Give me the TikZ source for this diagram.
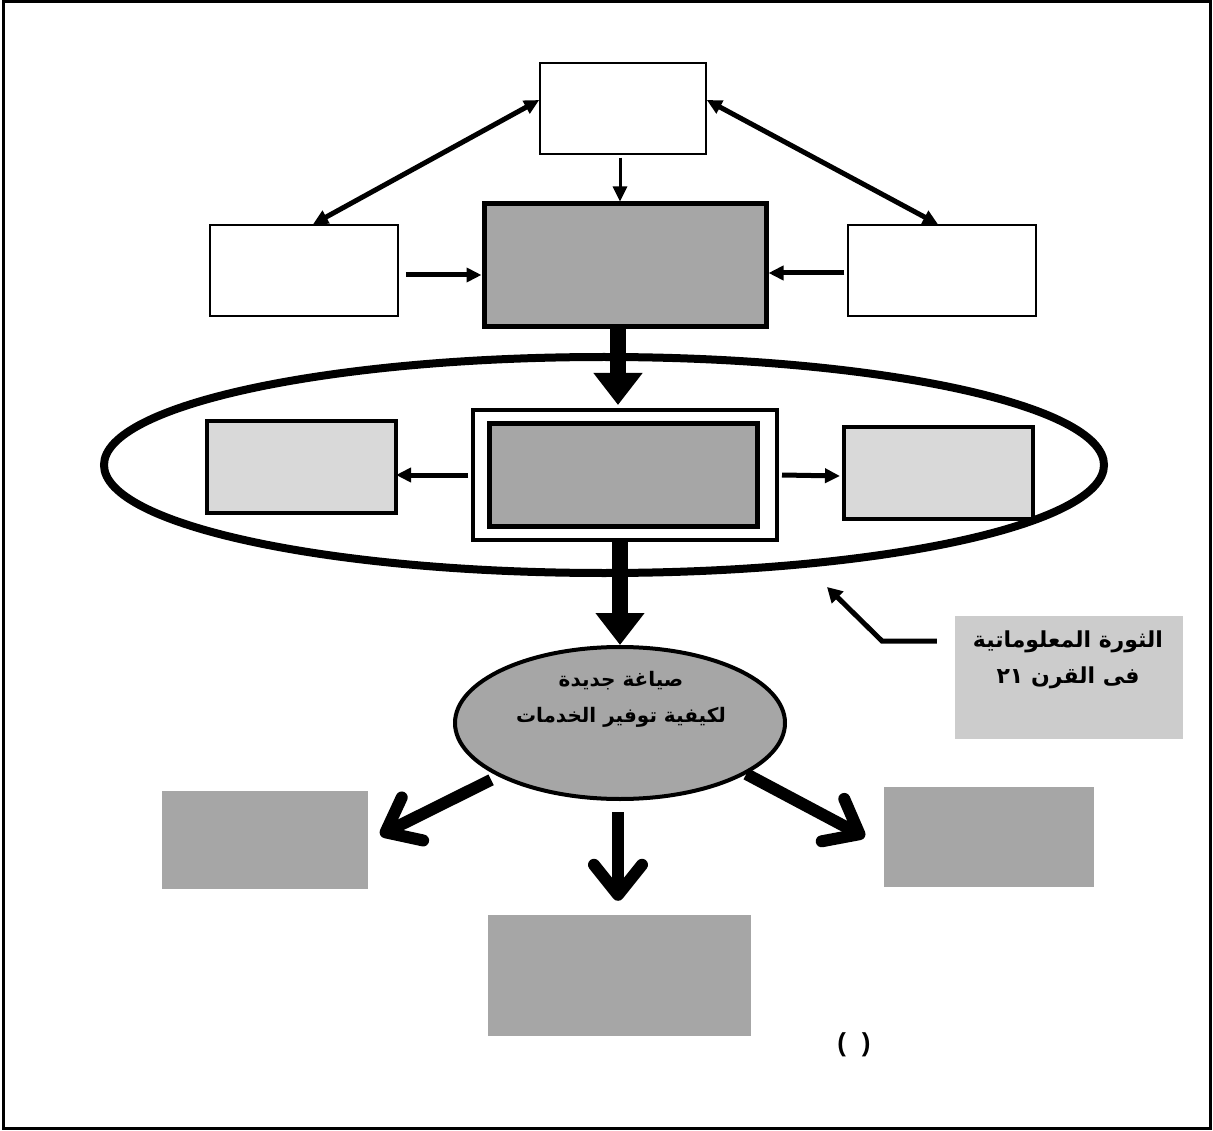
\documentclass[tikz,border=0pt]{standalone}
\usepackage{fontspec}
\setmainfont{Liberation Sans}
\newfontfamily\arabicfont[Script=Arabic]{DejaVu Sans}
\TeXXeTstate=1
\usetikzlibrary{arrows.meta,shapes.geometric}
\definecolor{boxgray}{HTML}{A6A6A6}
\definecolor{palegray}{HTML}{D9D9D9}
\definecolor{notegray}{HTML}{CCCCCC}
\tikzset{
	plainbox/.style={draw, line width=1.5pt, fill=white, inner sep=0pt},
	corebox/.style={draw, line width=5pt, fill=boxgray, inner sep=0pt},
	palebox/.style={draw, line width=4pt, fill=palegray, inner sep=0pt},
	greybox/.style={fill=boxgray, inner sep=0pt},
	tip/.tip={Triangle[length=15pt, width=14pt]},
	thinarrow/.style={line width=#1, -tip},
	fatarrow/.style={line width=16pt, -{Triangle[length=32pt, width=47pt]}},
	barbarrow/.style={line width=12pt, -{Straight Barb[length=30pt, width=48pt, round]}},
	artext/.style={font=\arabicfont\bfseries\fontsize{#1}{36}\selectfont, align=center}
}

\begin{document}
\begin{tikzpicture}[x=1pt, y=-1pt]
		%%%%% START %%%%%
		\useasboundingbox (0,0) rectangle (1213,1131);
		\draw[line width=3pt] (3,1.5) rectangle (1210.5,1128.5);
		
		\node[plainbox, minimum width=166pt, minimum height=91pt] (top) at (623,108.5) {};
		\node[plainbox, minimum width=188pt, minimum height=91pt] (left) at (304,270.5) {};
		\node[plainbox, minimum width=188pt, minimum height=91pt] (right) at (942,270.5) {};
		\node[corebox, minimum width=282pt, minimum height=123pt] (core) at (625,265.5) {};
		
		\draw[thinarrow=5pt, tip-tip] ([yshift=8.5pt]top.west) -- ([xshift=9pt]left.north);
		\draw[thinarrow=5pt, tip-tip] ([yshift=8.5pt]top.east) -- ([xshift=-4pt]right.north);
		\draw[thinarrow=3pt] ([xshift=-3pt, yshift=-3pt]top.south) -- ([xshift=-5pt]core.north);
		\draw[thinarrow=5pt] ([xshift=7pt, yshift=-4.5pt]left.east) -- ([yshift=-9.5pt]core.west);
		\draw[thinarrow=5pt] ([xshift=-3pt, yshift=-2.5pt]right.west) -- ([yshift=-7.5pt]core.east);
		
		%%%%% the era ellipse %%%%%
		\node[draw, ellipse, line width=8pt, inner sep=0pt, minimum width=1000pt, minimum height=216pt] (era) at (604,465) {};
		\node[draw, line width=4pt, fill=white, inner sep=0pt, minimum width=304pt, minimum height=130pt] (dbl) at (625,475) {};
		\node[corebox, minimum width=268pt, minimum height=102pt] (dblin) at (623,475) {};
		\node[palebox, minimum width=189pt, minimum height=92pt] (leftpale) at (301.5,467) {};
		\node[palebox, minimum width=189pt, minimum height=92pt] (rightpale) at (938.5,473) {};
		
		\draw[fatarrow] ([xshift=-7pt]core.south) -- ([xshift=-7pt, yshift=3pt]core.south |- dbl.north);
		\draw[thinarrow=5pt] ([xshift=-3pt]dbl.west) -- ([xshift=-2pt]dbl.west -| leftpale.east);
		\draw[thinarrow=5pt] ([xshift=3pt]dbl.east) -- ([xshift=-2pt, yshift=-1pt]dbl.east -| rightpale.west);
		
		%%%%% services %%%%%
		\node[draw, ellipse, line width=4pt, fill=boxgray, inner sep=0pt, minimum width=330pt, minimum height=152pt] (service) at (620,723) {};
		\node[artext=20] (servicetext) at (621,699) {\beginR صياغة جديدة\endR\\\beginR لكيفية توفير الخدمات\endR};
		\draw[fatarrow] (service.north |- dbl.south) -- (service.north);
		
		\node[fill=notegray, inner sep=0pt, minimum width=228pt, minimum height=123pt] (note) at (1069,677.5) {};
		\node[artext=22] (notetext) at (1068,660) {\beginR الثورة المعلوماتية\endR\\\beginR فى القرن \beginL ٢١\endL{}\endR};
		\coordinate (bend) at (882,641);
		\coordinate (eraedge) at (827,587);
		\draw[line width=5pt, -{Triangle[length=15pt, width=16pt]}] ([xshift=-18pt, yshift=36.5pt]note.west) -- (bend) -- (eraedge);
		
		\node[greybox, minimum width=206pt, minimum height=98pt] (leftout) at (265,840) {};
		\node[greybox, minimum width=210pt, minimum height=100pt] (rightout) at (989,837) {};
		\node[greybox, minimum width=263pt, minimum height=121pt] (midout) at (619.5,975.5) {};
		
		\draw[barbarrow] ([xshift=-8pt, yshift=-3pt]service.204) -- ([xshift=12pt, yshift=5pt]leftout.east);
		\draw[barbarrow] (service.338) -- ([xshift=-19pt]rightout.west);
		\draw[barbarrow] ([xshift=-2pt, yshift=-11pt]service.south) -- ([xshift=-1.5pt, yshift=14pt]midout.north);
		
		\node[font=\bfseries\fontsize{26}{30}\selectfont] (paren) at (854,1045) {(\hspace{16pt})};
		%%%%% END %%%%%
	\end{tikzpicture}
\end{document}
